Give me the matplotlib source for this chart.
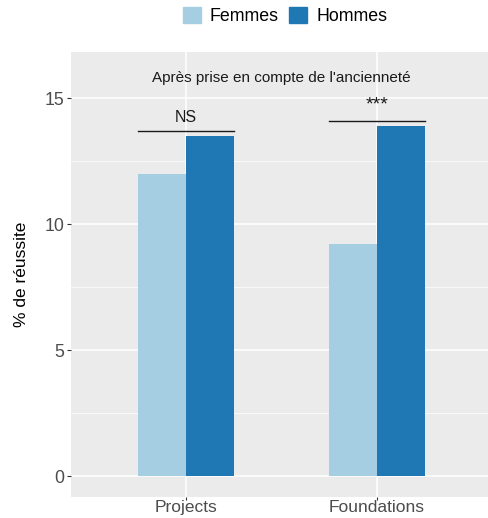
import numpy as np
import matplotlib.pyplot as plt
from matplotlib.patches import Patch

plt.rcParams['font.family'] = ['Liberation Sans', 'DejaVu Sans']

# taux de réussite après ajustement
programmes = ['Projects', 'Foundations']
femmes = [12.0, 9.2]
hommes = [13.5, 13.9]
signif = ['NS', '***']
signif_y = [13.7, 14.1]
groupes = ['Femmes', 'Hommes']
couleurs = ['#a6cee3', '#1f78b4']

fig = plt.figure(figsize=(4.88, 5.18), dpi=100)
# panneau (coordonnées figure) ; il déborde un peu à droite
ax = fig.add_axes([71/488, 1-497/518, (491.8-71)/488, (497-52)/518])
ax.set_facecolor('#ebebeb')
for s in ax.spines.values():
    s.set_visible(False)

x = np.arange(1, len(programmes)+1)
w = 0.25
ax.bar(x-w/2, femmes, w, color=couleurs[0], zorder=3)
ax.bar(x+w/2, hommes, w, color=couleurs[1], zorder=3)

# lignes de significativité
for xi, lab, ys in zip(x, signif, signif_y):
    ax.plot([xi-0.25, xi+0.25], [ys, ys], color='#1a1a1a', lw=1.0, zorder=4)
    if lab == 'NS':
        ax.text(xi, ys+0.22, lab, ha='center', va='bottom', fontsize=11.5, color='#1a1a1a')
    else:
        ax.text(xi, ys+0.3, lab, ha='center', va='bottom', fontsize=14, color='#1a1a1a')

ax.text(1.5, 15.8, "Après prise en compte de l'ancienneté", ha='center', va='center', fontsize=11, color='#1a1a1a')

ax.set_xlim(0.4, 2.6)
ax.set_ylim(-0.83, 16.83)
ax.set_yticks([0, 5, 10, 15])
ax.set_yticks([2.5, 7.5, 12.5], minor=True)
ax.set_xticks(x)
ax.set_xticklabels(programmes)
ax.grid(True, which='major', color='white', lw=1.1, zorder=0)
ax.grid(True, which='minor', axis='y', color='white', lw=0.5, zorder=0)
ax.tick_params(which='major', length=3, color='#333333', labelsize=12.8, labelcolor='#4d4d4d', pad=2)
ax.tick_params(axis='x', which='major', length=2, pad=0.3, labelsize=12.5)
ax.tick_params(which='minor', length=0)
ax.set_axisbelow(True)
ax.set_ylabel('% de réussite', fontsize=12.5, color='black', labelpad=11)

handles = [Patch(color=c, label=g) for c, g in zip(couleurs, groupes)]
fig.legend(handles=handles, loc='center', bbox_to_anchor=(285/488, 1-16/518), ncol=2, frameon=False,
           fontsize=12.8, handlelength=1.0, handleheight=1.0, columnspacing=0.6, handletextpad=0.5)

fig.savefig('out.png', dpi=100)
